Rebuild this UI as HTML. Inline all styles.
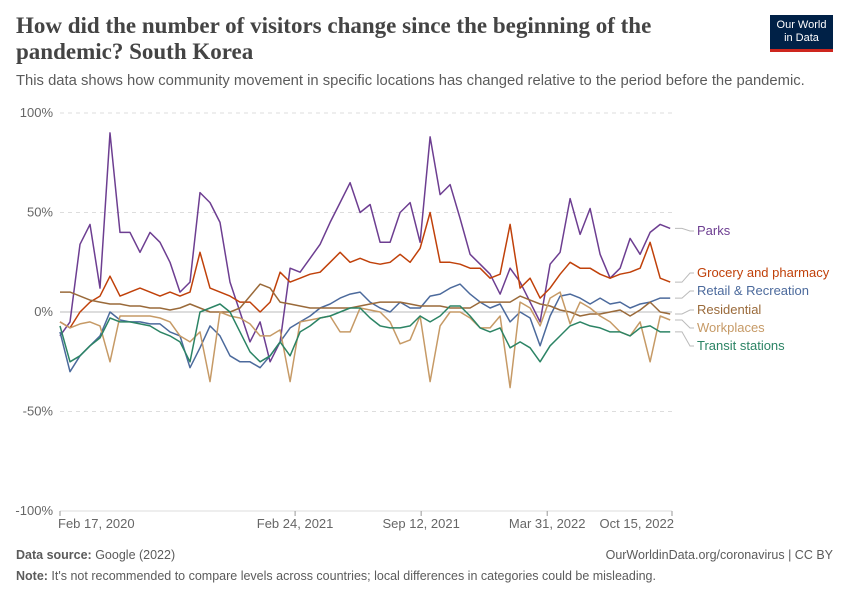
<!DOCTYPE html>
<html><head><meta charset="utf-8">
<style>
body{margin:0;background:#fff;font-family:"Liberation Sans",sans-serif;}
#wrap{position:relative;width:850px;height:600px;overflow:hidden;}
.title{position:absolute;left:16px;top:13px;width:720px;font-family:"Liberation Serif",serif;font-weight:bold;font-size:23px;line-height:26px;color:#444;}
.sub{position:absolute;left:16px;top:73px;font-size:14.8px;color:#5b5b5b;}
.logo{position:absolute;left:770px;top:15px;width:63px;height:37px;background:#002147;color:#fff;font-size:11px;line-height:13px;text-align:center;padding-top:4px;box-sizing:border-box;border-bottom:3px solid #ce261e;}
.foot{position:absolute;font-size:12.5px;color:#5b5b5b;}
</style></head><body>
<div id="wrap">
<div class="title">How did the number of visitors change since the beginning of the pandemic? South Korea</div>
<div class="sub">This data shows how community movement in specific locations has changed relative to the period before the pandemic.</div>
<div class="logo">Our World<br>in Data</div>
<svg id="chart" width="850" height="600" style="position:absolute;left:0;top:0"></svg>
<div class="foot" style="left:16px;top:548px"><b>Data source:</b> Google (2022)</div>
<div class="foot" style="right:17px;top:548px">OurWorldinData.org/coronavirus | CC BY</div>
<div class="foot" style="left:16px;top:569px"><b>Note:</b> It's not recommended to compare levels across countries; local differences in categories could be misleading.</div>
</div>
<script>
const startDay=0, stepDays=15.87, totalDays=971;
const yTicks=[100,50,0,-50,-100];
const yTickLabels=["100%","50%","0%","-50%","-100%"];
const xTickDays=[0,373,573,773,971];
const xTickLabels=["Feb 17, 2020","Feb 24, 2021","Sep 12, 2021","Mar 31, 2022","Oct 15, 2022"];
const seriesNames=["Parks","Grocery and pharmacy","Retail & Recreation","Residential","Workplaces","Transit stations"];
const parks=[-12,-5,34,44,12,90,40,40,30,40,35,25,10,15,60,55,45,15,0,-15,-5,-25,-15,22,20,27,34,45,55,65,50,54,35,35,50,55,35,88,59,64,47,29,24,19,9,22,15,5,-5,24,30,57,39,52,29,17,22,37,29,40,44,42];
const grocery=[-5,-8,0,5,8,18,8,10,12,10,8,10,8,10,30,12,10,8,5,5,0,5,20,15,17,19,20,25,30,25,27,25,24,25,29,25,32,50,25,25,24,22,22,17,19,44,12,17,7,12,19,25,22,22,19,17,19,20,22,35,17,15];
const retail=[-10,-30,-22,-17,-12,0,-4,-5,-5,-6,-6,-10,-12,-28,-18,-7,-12,-22,-25,-25,-28,-22,-15,-8,-5,-2,2,4,7,9,10,5,2,0,5,2,2,8,9,12,14,9,5,2,4,-5,0,-3,-17,-2,8,9,7,4,7,4,5,2,4,5,7,7];
const residential=[10,10,8,6,5,4,4,3,3,2,2,1,2,4,2,0,0,0,2,8,14,12,5,4,3,2,2,2,2,2,3,4,5,5,5,4,3,3,3,2,2,2,5,5,5,5,8,6,4,3,1,0,-2,-1,-1,0,1,-2,1,5,0,-1];
const workplaces=[-5,-8,-6,-5,-7,-25,-2,-2,-2,-2,-3,-5,-12,-15,-10,-35,0,-2,-3,-6,-12,-12,-9,-35,-5,-4,-3,-2,-10,-10,2,1,0,-5,-16,-14,-2,-35,-7,0,0,-3,-8,-8,-2,-38,5,2,-7,7,10,-6,5,2,-2,-5,-10,-12,-5,-25,-2,-4];
const transit=[-7,-25,-22,-17,-13,-3,-5,-5,-6,-7,-10,-12,-15,-25,0,2,4,0,-10,-20,-25,-22,-15,-22,-10,-7,-3,-2,0,2,2,-3,-7,-8,-8,-7,-2,-5,-2,3,3,-2,-8,-10,-8,-18,-15,-18,-25,-17,-12,-7,-5,-7,-8,-10,-10,-12,-8,-7,-10,-10];
const allSeries=[parks,grocery,retail,residential,workplaces,transit];
const colors=["#6d3e91","#c0410a","#4c6a9c","#9a6a3a","#c69a66","#2c8465"];
const labelY=[231,273,291,310,328,346];

const X0=60,X1=672,Y0=312,PX=1.99;
const xs=d=>X0+(d-startDay)/totalDays*(X1-X0);
const ys=v=>Y0-v*PX;
const svg=document.getElementById('chart');
const NS="http://www.w3.org/2000/svg";
function mk(t,a){const e=document.createElementNS(NS,t);for(const k in a)e.setAttribute(k,a[k]);svg.appendChild(e);return e;}
yTicks.forEach((t,i)=>{
  const l=mk('line',{x1:X0,x2:X1,y1:ys(t),y2:ys(t),stroke:t===0?'#bbb':'#ddd','stroke-width':1,'stroke-dasharray':t===0||t===-100?'':'4,4'});
  
  
  const tx=mk('text',{x:53,y:ys(t)+4,'text-anchor':'end','font-size':13,fill:'#666','font-family':'Liberation Sans'});
  tx.textContent=yTickLabels[i];
  
  
});
xTickDays.forEach((d,i)=>{
  const l=mk('line',{x1:xs(d),x2:xs(d),y1:511,y2:516,stroke:'#999'});
  
  
  const tx=mk('text',{x:xs(d),y:528,'text-anchor':i===0?'start':(i===xTickDays.length-1?'end':'middle'),'font-size':13,fill:'#666','font-family':'Liberation Sans'});
  if(i===0)tx.setAttribute('x',xs(d)-2);
  if(i===xTickDays.length-1)tx.setAttribute('x',xs(d)+2);
  tx.textContent=xTickLabels[i];
  
  
});
allSeries.forEach((s,k)=>{
  const pts=s.map((v,i)=>xs(startDay+i*stepDays).toFixed(1)+','+ys(v).toFixed(1)).join(' ');
  const p=mk('polyline',{points:pts,fill:'none',stroke:colors[k],'stroke-width':1.5,'stroke-linejoin':'round'});
  
  
  const lastY=ys(s[s.length-1]);
  const ll=mk('polyline',{points:`${X1+3},${lastY} ${X1+10},${lastY} ${X1+18},${labelY[k]} ${X1+22},${labelY[k]}`,fill:'none',stroke:'#bbb','stroke-width':1});
  
  
  const tx=mk('text',{x:697,y:labelY[k]+4,'font-size':13,fill:colors[k],'font-family':'Liberation Sans'});
  tx.textContent=seriesNames[k];
  
  
});
</script>
</body></html>
